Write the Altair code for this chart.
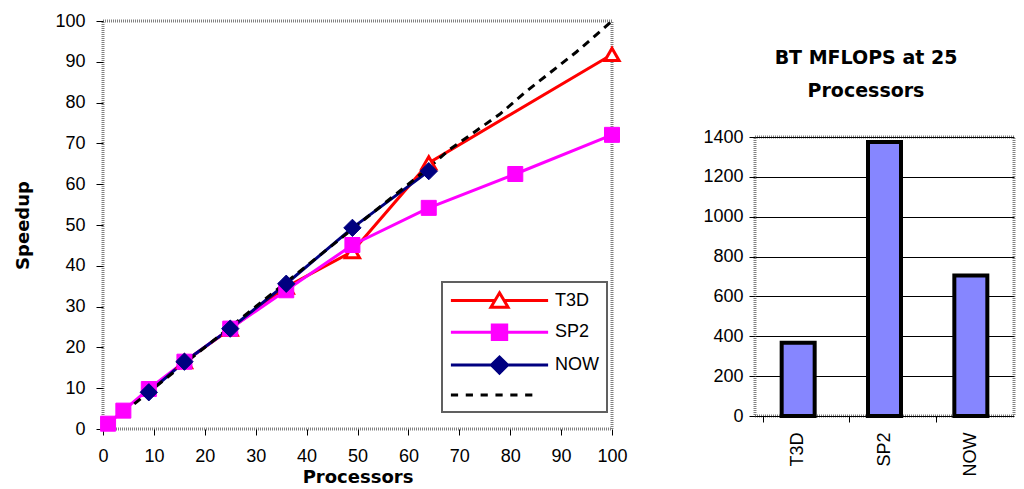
import altair as alt
import pandas as pd

# ---------------- data ----------------
series_names = ["T3D", "SP2", "NOW", "Ideal"]
series_colors = ["#FF0000", "#FF00FF", "#000080", "#000000"]

t3d_procs = [16, 25, 36, 49, 64, 100]
t3d_speedup = [16.5, 24.5, 34.8, 43.5, 65.2, 91.8]
sp2_procs = [1, 4, 9, 16, 25, 36, 49, 64, 81, 100]
sp2_speedup = [1.3, 4.5, 9.8, 16.5, 24.6, 34.0, 45.1, 54.2, 62.5, 72.1]
now_procs = [9, 16, 25, 36, 49, 64]
now_speedup = [9.0, 16.5, 24.6, 35.6, 49.3, 63.2]
ideal_procs = [4, 9, 16, 25, 36, 49, 64, 68, 73, 78, 83, 88, 93, 98, 100]
ideal_speedup = [4, 9, 16, 25, 36, 49, 64, 68.4, 72.8, 77.2, 82.6, 87.5, 92.4, 97.8, 100]

x_ticks = [0, 10, 20, 30, 40, 50, 60, 70, 80, 90, 100]
y_ticks = [0, 10, 20, 30, 40, 50, 60, 70, 80, 90, 100]

bar_machines = ["T3D", "SP2", "NOW"]
bar_mflops = [368, 1375, 705]
bar_ticks = [0, 200, 400, 600, 800, 1000, 1200, 1400]

bar_title_lines = ["BT MFLOPS at 25", "Processors"]


def series_df(xs, ys, name):
    return pd.DataFrame({"procs": xs, "speedup": ys, "series": name})


t3d_df = series_df(t3d_procs, t3d_speedup, "T3D")
sp2_df = series_df(sp2_procs, sp2_speedup, "SP2")
now_df = series_df(now_procs, now_speedup, "NOW")
ideal_df = series_df(ideal_procs, ideal_speedup, "Ideal")
legend_df = pd.DataFrame({"procs": [0] * 4, "speedup": [0] * 4, "series": series_names})

RED, MAG, NAVY, BLACK = series_colors

x_enc = alt.X(
    "procs:Q",
    scale=alt.Scale(domain=[0, 100], nice=False, zero=False),
    axis=alt.Axis(title="Processors", values=x_ticks, tickSize=6, labelPadding=12,
                  titlePadding=3, labelFlush=False),
)
y_enc = alt.Y(
    "speedup:Q",
    scale=alt.Scale(domain=[0, 100], nice=False),
    axis=alt.Axis(title="Speedup", values=y_ticks, tickSize=7, labelPadding=11,
                  titlePadding=22, labelFlush=False),
)


def line_layer(df, color, dash=None):
    kw = dict(stroke=color, strokeWidth=3)
    if dash:
        kw["strokeDash"] = dash
    return alt.Chart(df).mark_line(**kw).encode(x=x_enc, y=y_enc)


t3d_line = line_layer(t3d_df, RED)
sp2_line = line_layer(sp2_df, MAG)
now_line = line_layer(now_df, NAVY)
ideal_line = line_layer(ideal_df, BLACK, [8, 6])

t3d_pts = alt.Chart(t3d_df).mark_point(shape="triangle-up", size=200, filled=True, fill="white",
                                       stroke=RED, strokeWidth=3, opacity=1).encode(x=x_enc, y=y_enc)
sp2_pts = alt.Chart(sp2_df).mark_point(shape="square", size=225, filled=True, fill=MAG,
                                       stroke=MAG, strokeWidth=1, opacity=1).encode(x=x_enc, y=y_enc)
now_pts = alt.Chart(now_df).mark_point(shape="diamond", size=300, filled=True, fill=NAVY,
                                       stroke=NAVY, strokeWidth=1, opacity=1).encode(x=x_enc, y=y_enc)

legend_paths = [
    "M-5.4,0L-0.5,0M0.5,0L5.4,0M0,-0.85L0.95,0.75L-0.95,0.75Z",
    "M-5.4,0L5.4,0M-0.8,-0.8L0.8,-0.8L0.8,0.8L-0.8,0.8Z",
    "M-5.4,0L5.4,0M0,-0.9L0.9,0L0,0.9L-0.9,0Z",
    "M-5.4,0L-4.6,0M-3.75,0L-2.95,0M-2.1,0L-1.3,0M-0.45,0L0.35,0M1.2,0L2.0,0M2.85,0L3.65,0",
]

leg = alt.Legend(
    title=None, orient="none", legendX=339, legendY=261,
    symbolSize=324, symbolStrokeWidth=3, symbolOffset=39,
    labelFont="Liberation Sans", labelFontSize=18, labelColor="black", labelOffset=45,
    rowPadding=4.8, padding=8, strokeColor="#606060", fillColor="white",
    labelExpr="datum.label == 'Ideal' ? '' : datum.label",
)

legend_layer = alt.Chart(legend_df).transform_filter("false").mark_point(
    opacity=1, strokeWidth=3, filled=True
).encode(
    x=x_enc, y=y_enc,
    shape=alt.Shape("series:N", scale=alt.Scale(domain=series_names, range=legend_paths), legend=leg),
    fill=alt.Fill("series:N", scale=alt.Scale(domain=series_names, range=["white", MAG, NAVY, "transparent"]), legend=leg),
    stroke=alt.Stroke("series:N", scale=alt.Scale(domain=series_names, range=series_colors), legend=leg),
)

left = alt.layer(
    t3d_line, sp2_line, now_line, ideal_line, t3d_pts, sp2_pts, now_pts, legend_layer
).properties(width=509, height=408)

# title block of the bar chart, as text marks
title_df = pd.DataFrame({"line": bar_title_lines, "order": list(range(len(bar_title_lines)))})
title_block = alt.Chart(title_df).mark_text(
    font="DejaVu Sans", fontSize=19, fontWeight="bold", color="black", baseline="middle", align="center"
).encode(
    y=alt.Y("order:O", axis=None, scale=alt.Scale(type="point", padding=1.129, align=0.543)),
    text="line:N",
).properties(width=222, height=101, view=alt.ViewBackground(stroke="transparent"))

bar_df = pd.DataFrame({"machine": bar_machines, "mflops": bar_mflops})
bar_x_scale = alt.Scale(paddingInner=0.2, paddingOuter=0.1)
bars = alt.Chart(bar_df).mark_bar(size=33, fill="#8686FF", stroke="black", strokeWidth=4).encode(
    x=alt.X("machine:N", sort=bar_machines, scale=bar_x_scale,
            axis=alt.Axis(title=None, labelAngle=270, ticks=False, labelPadding=16)),
    y=alt.Y("mflops:Q", scale=alt.Scale(domain=[0, 1400], nice=False),
            axis=alt.Axis(title=None, values=bar_ticks, grid=True, gridColor="black", gridWidth=1,
                          tickSize=6, labelPadding=6, labelFlush=False, format="d")),
)
# category separator ticks on the bottom axis
bar_sep_ticks = alt.Chart(bar_df).transform_filter("false").mark_bar(opacity=0).encode(
    x=alt.X("machine:N", sort=bar_machines, scale=bar_x_scale,
            axis=alt.Axis(title=None, orient="bottom", labels=False, ticks=True, bandPosition=0,
                          tickSize=6, tickColor="black")),
)
bar_chart = alt.layer(bars, bar_sep_ticks).resolve_axis(x="independent").properties(width=259, height=279)

right = alt.vconcat(title_block, bar_chart, spacing=2)

chart = alt.hconcat(left, right, spacing=72).properties(
    padding={"left": 5, "top": 2, "right": 0, "bottom": 0},
    background="white",
).configure_axis(
    labelFont="Liberation Sans", labelFontSize=18, labelColor="black",
    titleFont="DejaVu Sans", titleFontSize=18, titleFontWeight="bold", titleColor="black",
    tickColor="black", domain=False, grid=False,
).configure_view(
    stroke="#808080", strokeWidth=3, strokeDash=[1, 1],
).configure_legend(strokeWidth=2)

chart.save("out.html", embed_options={"renderer": "svg", "actions": False})
